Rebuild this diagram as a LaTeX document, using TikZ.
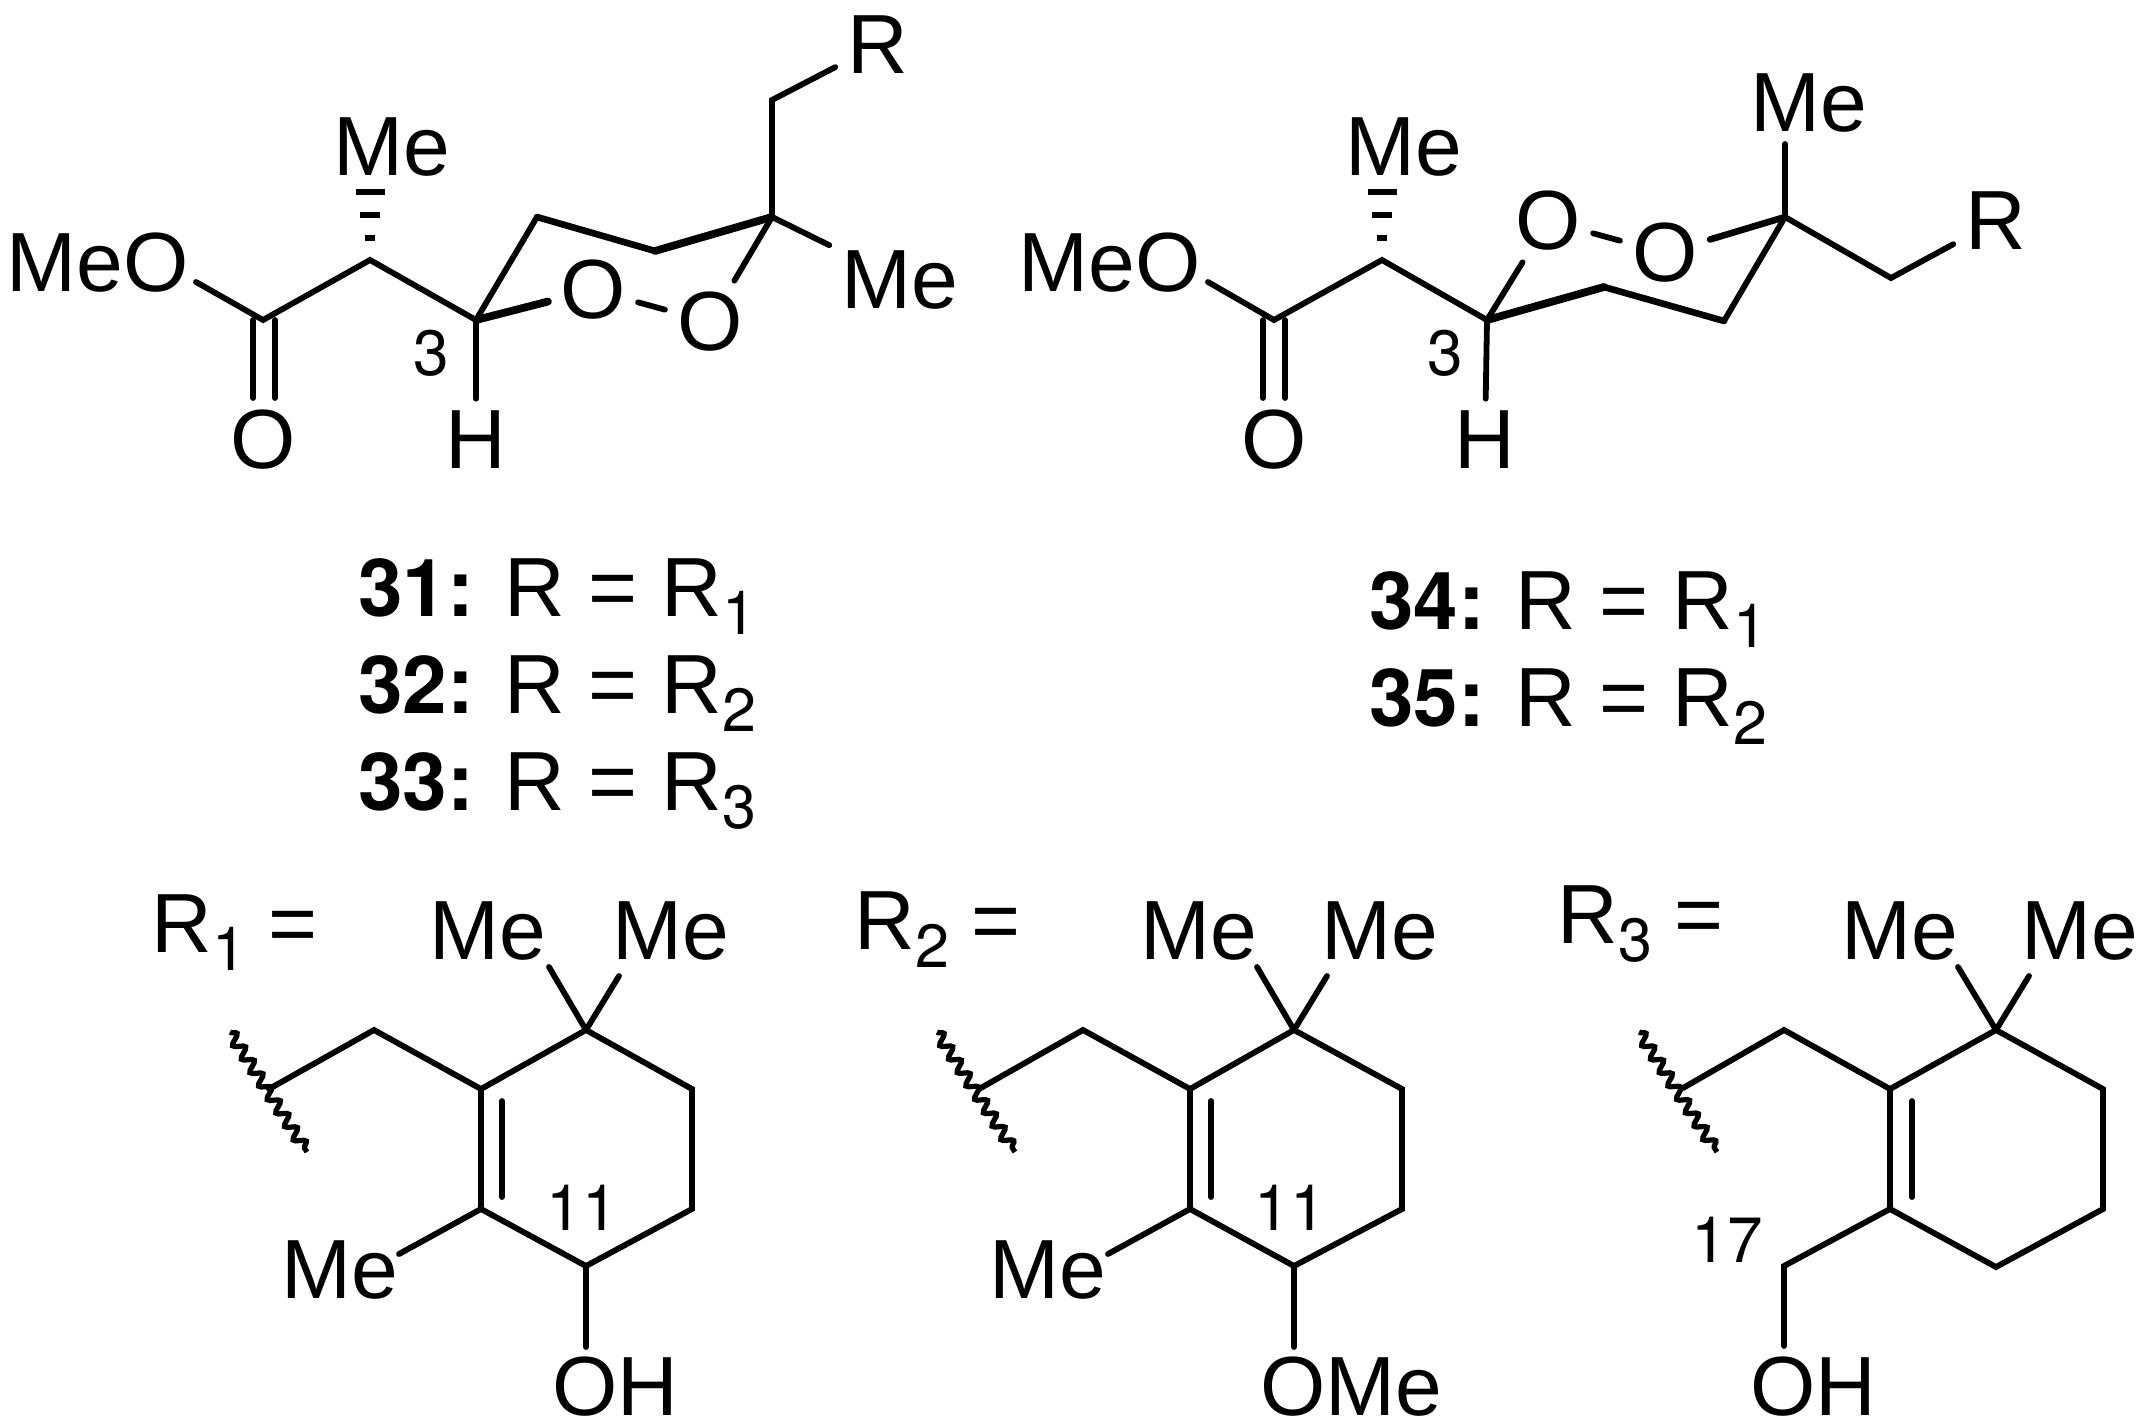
\documentclass[tikz,border=0pt]{standalone}
\usepackage{fontspec}
\setmainfont{Liberation Sans}
\newfontfamily\numfont{TeX Gyre Heros}
\usetikzlibrary{decorations.pathmorphing}
\newcommand{\rsub}[1]{R\raisebox{-9pt}{\numfont\fontsize{30.5}{36}\selectfont #1}}
\newcommand{\cmpd}[2]{{\numfont\bfseries\fontsize{40}{48}\selectfont #1:}\hspace{15pt}R\hspace{12pt}=\hspace{12pt}\rsub{#2}}
\newcommand{\req}[1]{\rsub{#1}\hspace{11.5pt}=}
\tikzset{atom/.style={inner sep=6pt,text height=28.9pt,text depth=0pt,font=\fontsize{42}{48}\selectfont}}
\tikzset{low/.style={inner ysep=3pt}}
\tikzset{txt/.style={inner sep=0pt,anchor=base west,font=\fontsize{42}{48}\selectfont}}
\tikzset{numlbl/.style={inner sep=0pt,font=\numfont\fontsize{32}{38}\selectfont}}
\tikzset{bond/.style={line width=2.9pt,line cap=round,line join=miter}}
\tikzset{bondm/.style={bond,line width=3.3pt}}
\tikzset{bondb/.style={bond,line width=3.9pt}}
\tikzset{hash/.style={line width=2.6pt}}
\tikzset{wavy/.style={line width=2.6pt,decorate,decoration={snake,amplitude=2.6pt,segment length=8pt}}}
\begin{document}
\begin{tikzpicture}[x=0.5pt,y=-0.5pt]
    \useasboundingbox (0,0) rectangle (2147,1427);
    % 31-33
    \coordinate (a1) at (263,320);
    \coordinate (a2) at (370,260);
    \coordinate (a3) at (476,320);
    \coordinate (a4) at (537,217);
    \coordinate (a5) at (655,251);
    \coordinate (a6) at (772,217);
    \coordinate (a7) at (772,100);
    \coordinate (ameo) at (196,282);
    \coordinate (adbl) at (253,320);
    \coordinate (adbr) at (275,320);
    \coordinate (aol) at (253,398);
    \coordinate (aor) at (275,398);
    \node[atom] (aR) at (878,45) {R};
    \node[atom] (ame) at (392,147) {Me};
    \node[atom] (ame2) at (900,280) {Me};
    \node[atom] (aMeO) at (98,263) {MeO};
    \node[atom] (aO) at (263,440) {O};
    \node[atom] (aH) at (476,440) {H};
    \node[atom] (aO1) at (593,290) {O};
    \node[atom] (aO2) at (710,322) {O};
    \node[numlbl] (a3n) at (431,353) {3};
    \draw[bond] (ameo) -- (a1) -- (a2) -- (a3);
    \draw[bond] (adbl) -- (aol);
    \draw[bond] (adbr) -- (aor);
    \draw[bond] (a3) -- (aH);
    \draw[bond] (a3) -- (a4);
    \draw[bondm] (a4) -- (a5);
    \draw[bondb] (a5) -- (a6);
    \draw[bondb] (a3) -- (aO1);
    \draw[bond] (aO1) -- (aO2);
    \draw[bond] (aO2) -- (a6);
    \draw[bond] (a6) -- (ame2);
    \draw[bond] (a6) -- (a7) -- (aR);
    \foreach \d/\w in {22/5,45/10,68/14.5}
        \draw[hash] (a2) ++(-\w,-\d) -- ++(2*\w,0);
    % 34-35
    \coordinate (b1) at (1274,320);
    \coordinate (b2) at (1382,260);
    \coordinate (b3) at (1487,320);
    \coordinate (b4) at (1604,287);
    \coordinate (b5) at (1724,321);
    \coordinate (b6) at (1785,217);
    \coordinate (b7) at (1891,278);
    \coordinate (bmeo) at (1208,282);
    \coordinate (bdbl) at (1263,320);
    \coordinate (bdbr) at (1285,320);
    \coordinate (bol) at (1263,398);
    \coordinate (bor) at (1285,398);
    \node[atom] (bR) at (1996,221) {R};
    \node[atom] (bme) at (1404,147) {Me};
    \node[atom] (bme2) at (1809,103) {Me};
    \coordinate (bme2e) at (1785,144);
    \node[atom] (bMeO) at (1110,263) {MeO};
    \node[atom] (bO) at (1274,440) {O};
    \node[atom] (bH) at (1485,440) {H};
    \node[atom] (bO1) at (1548,221) {O};
    \node[atom] (bO2) at (1665,253) {O};
    \node[numlbl] (b3n) at (1445,353) {3};
    \draw[bond] (bmeo) -- (b1) -- (b2) -- (b3);
    \draw[bond] (bdbl) -- (bol);
    \draw[bond] (bdbr) -- (bor);
    \draw[bond] (b3) -- (bH);
    \draw[bond] (b3) -- (bO1);
    \draw[bondb] (b3) -- (b4);
    \draw[bondm] (b4) -- (b5);
    \draw[bond] (b5) -- (b6);
    \draw[bond] (bO1) -- (bO2);
    \draw[bondm] (bO2) -- (b6);
    \draw[bond] (b6) -- (bme2e);
    \draw[bond] (b6) -- (b7) -- (bR);
    \foreach \d/\w in {22/5,45/10,68/14.5}
        \draw[hash] (b2) ++(-\w,-\d) -- ++(2*\w,0);
    % compound labels
    \node[txt] (l31) at (358,617) {\cmpd{31}{1}};
    \node[txt] (l32) at (358,713) {\cmpd{32}{2}};
    \node[txt] (l33) at (358,810) {\cmpd{33}{3}};
    \node[txt] (l34) at (1369,630) {\cmpd{34}{1}};
    \node[txt] (l35) at (1369,726) {\cmpd{35}{2}};
    % R1
    \node[txt] (preq) at (151,952) {\req{1}};
    \coordinate (p1) at (586,1030);
    \coordinate (p2) at (692,1089);
    \coordinate (p3) at (692,1209);
    \coordinate (p4) at (586,1266);
    \coordinate (p5) at (481,1209);
    \coordinate (p6) at (481,1089);
    \coordinate (p7) at (374,1030);
    \coordinate (p8) at (269,1089);
    \coordinate (pwa) at (230,1032);
    \coordinate (pwb) at (307,1152);
    \coordinate (pia) at (502,1101);
    \coordinate (pib) at (502,1197);
    \coordinate (pma) at (549,967);
    \coordinate (pmb) at (619,976);
    \coordinate (pmc) at (399,1254);
    \coordinate (pod) at (586,1347);
    \node[atom] (pme1) at (488,931) {Me};
    \node[atom] (pme2) at (671,931) {Me};
    \node[atom] (pme3) at (340,1270) {Me};
    \node[atom,low] (pOH) at (615,1387) {OH};
    \node[numlbl] (p11) at (582,1208) {11};
    \draw[bond] (p1) -- (p2) -- (p3) -- (p4) -- (p5) -- (p6) -- cycle;
    \draw[bond] (p8) -- (p7) -- (p6);
    \draw[bond] (pia) -- (pib);
    \draw[bond] (p1) -- (pma);
    \draw[bond] (p1) -- (pmb);
    \draw[bond] (p5) -- (pmc);
    \draw[bond] (p4) -- (pod);
    \draw[wavy] (pwa) -- (pwb);
    % R2
    \node[txt] (qeq) at (854,949) {\req{2}};
    \coordinate (q1) at (1294,1030);
    \coordinate (q2) at (1402,1089);
    \coordinate (q3) at (1402,1209);
    \coordinate (q4) at (1294,1266);
    \coordinate (q5) at (1190,1209);
    \coordinate (q6) at (1190,1089);
    \coordinate (q7) at (1083,1030);
    \coordinate (q8) at (979,1089);
    \coordinate (qwa) at (937,1032);
    \coordinate (qwb) at (1015,1152);
    \coordinate (qia) at (1211,1101);
    \coordinate (qib) at (1211,1197);
    \coordinate (qma) at (1257,967);
    \coordinate (qmb) at (1327,976);
    \coordinate (qmc) at (1108,1254);
    \coordinate (qod) at (1294,1347);
    \node[atom] (qme1) at (1199,931) {Me};
    \node[atom] (qme2) at (1380,931) {Me};
    \node[atom] (qme3) at (1048,1270) {Me};
    \node[atom,low] (qOMe) at (1351,1387) {OMe};
    \node[numlbl] (q11) at (1290,1208) {11};
    \draw[bond] (q1) -- (q2) -- (q3) -- (q4) -- (q5) -- (q6) -- cycle;
    \draw[bond] (q8) -- (q7) -- (q6);
    \draw[bond] (qia) -- (qib);
    \draw[bond] (q1) -- (qma);
    \draw[bond] (q1) -- (qmb);
    \draw[bond] (q5) -- (qmc);
    \draw[bond] (q4) -- (qod);
    \draw[wavy] (qwa) -- (qwb);
    % R3
    \node[txt] (seq) at (1557,943) {\req{3}};
    \coordinate (s1) at (1996,1030);
    \coordinate (s2) at (2103,1089);
    \coordinate (s3) at (2103,1209);
    \coordinate (s4) at (1996,1267);
    \coordinate (s5) at (1890,1209);
    \coordinate (s6) at (1890,1089);
    \coordinate (s7) at (1784,1030);
    \coordinate (s8) at (1683,1088);
    \coordinate (s9) at (1784,1266);
    \coordinate (swa) at (1639,1032);
    \coordinate (swb) at (1717,1152);
    \coordinate (sia) at (1912,1101);
    \coordinate (sib) at (1912,1197);
    \coordinate (sma) at (1958,967);
    \coordinate (smb) at (2029,976);
    \coordinate (sod) at (1784,1346);
    \node[atom] (sme1) at (1900,931) {Me};
    \node[atom] (sme2) at (2080,931) {Me};
    \node[atom,low] (sOH) at (1813,1387) {OH};
    \node[numlbl] (s17) at (1727,1240) {17};
    \draw[bond] (s1) -- (s2) -- (s3) -- (s4) -- (s5) -- (s6) -- cycle;
    \draw[bond] (s8) -- (s7) -- (s6);
    \draw[bond] (sia) -- (sib);
    \draw[bond] (s1) -- (sma);
    \draw[bond] (s1) -- (smb);
    \draw[bond] (s5) -- (s9) -- (sod);
    \draw[wavy] (swa) -- (swb);
\end{tikzpicture}
\end{document}
